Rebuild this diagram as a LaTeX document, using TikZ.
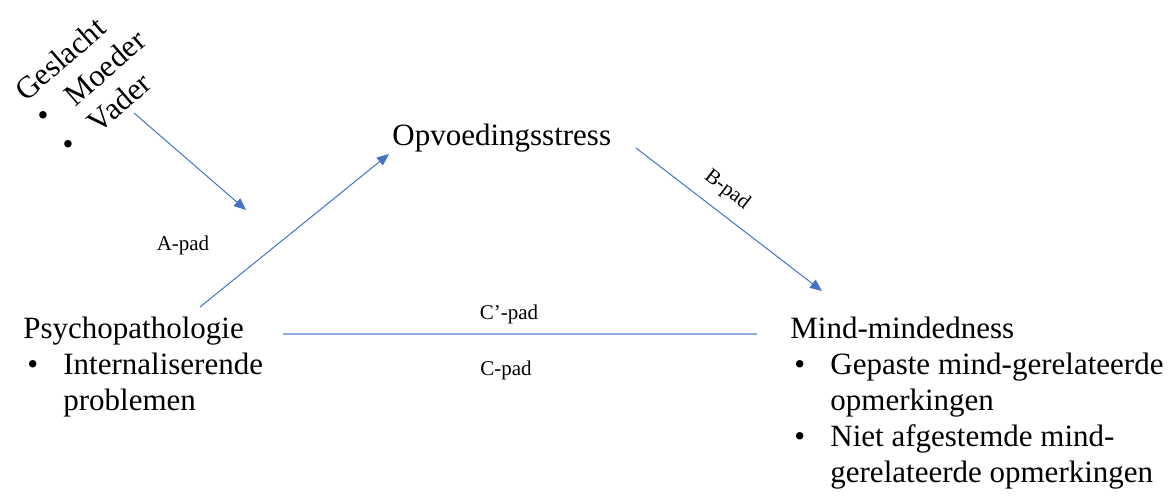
\documentclass[tikz,border=0pt]{standalone}
\usepackage{fontspec}
\setmainfont{Liberation Serif}
\usetikzlibrary{arrows.meta,backgrounds}
\definecolor{padblue}{HTML}{4472C4}
\definecolor{padlight}{HTML}{8FAADC}
\newcommand{\mainsize}{\fontsize{15.5}{18}\selectfont}
\newcommand{\padsize}{\fontsize{10.5}{12}\selectfont}
\newcommand{\itm}{\hspace*{2pt}\makebox[18pt][l]{\textbullet}}
\newcommand{\ind}{\hspace*{20pt}}

\begin{document}
\begin{tikzpicture}[%
        x=0.5pt, y=-0.5pt,%
        show background rectangle,%
        tight background,%
        background rectangle/.style={fill=white}%
    ]
        \tikzset{%
            block/.style={inner sep=0pt, anchor=base west, align=left, font=\mainsize},%
            padlabel/.style={inner sep=0pt, font=\padsize},%
            padarrow/.style={draw=padblue, line width=0.5pt, -{Triangle[length=6pt,width=5pt]}},%
            padline/.style={draw=padlight, line width=1pt}%
        }%
        \useasboundingbox (0,0) rectangle (1172,497);%

        %
        % Variabelen (base west = baseline of last line)
        %
        % Mediator
        \node[block] (opvoeding) at (392,146) {Opvoedingsstress};%
        % Predictor
        \node[block] (psycho) at (23,410) {Psychopathologie\\\itm Internaliserende\\\ind problemen};%
        % Uitkomst
        \node[block] (mind) at (790,482) {Mind-mindedness\\\itm Gepaste mind-gerelateerde\\\ind opmerkingen\\\itm Niet afgestemde mind-\\\ind gerelateerde opmerkingen};%
        % Moderator
        \node[block, rotate=41] (geslacht) at (73,157) {Geslacht\\\hspace*{17pt}Moeder\\\hspace*{17pt}Vader};%
        \foreach \n/\x/\y in {gbul1/43/119,gbul2/68/148} {%
            \node[inner sep=0pt, font=\mainsize] (\n) at (\x,\y) {\textbullet};%
        }%

        %
        % Paden
        %
        \coordinate (a start) at (200,307);%
        \coordinate (a end) at (389,154);%
        \coordinate (b start) at (636,148);%
        \coordinate (b end) at (822,291);%
        \coordinate (c start) at (283,334);%
        \coordinate (c end) at (757,334);%
        \coordinate (g start) at (134,113);%
        \coordinate (g end) at (246,210);%

        \draw[padarrow] (a start) -- (a end);%
        \draw[padarrow] (b start) -- (b end);%
        \draw[padarrow] (g start) -- (g end);%
        \draw[padline] (c start) -- (c end);%

        % Labels
        \node[padlabel, anchor=base] (apad) at (183,250) {A-pad};%
        \node[padlabel, rotate=-37.6] (bpad) at (727,190) {B-pad};%
        \node[padlabel, anchor=base] (cprpad) at (509,320) {C’-pad};%
        \node[padlabel, anchor=base] (cpad) at (506,375) {C-pad};%
    \end{tikzpicture}
\end{document}
